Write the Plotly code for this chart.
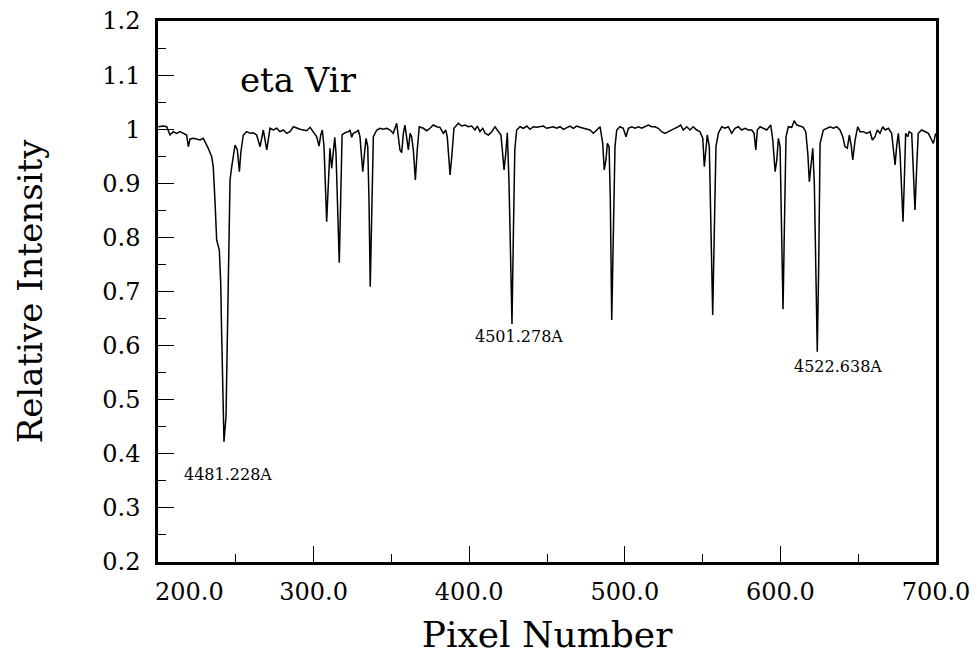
import plotly.graph_objects as go

# ---- data ----
pixel = [
    200.2, 203.4, 205.6, 207.7, 209.8, 212.0, 214.1, 216.3, 218.4, 219.5, 220.6, 222.7, 224.9, 227.0,
    229.1, 230.2, 232.3, 234.5, 235.5, 236.6, 237.7, 239.4, 240.3, 240.9, 241.6, 242.4, 243.7, 244.5,
    245.4, 246.3, 247.4, 249.5, 251.0, 252.3, 253.2, 254.8, 257.0, 259.1, 261.2, 263.4, 265.6, 267.7,
    269.9, 272.0, 274.1, 276.3, 278.4, 280.5, 282.7, 284.8, 287.0, 289.1, 291.3, 293.4, 295.6, 297.7,
    299.8, 302.0, 303.5, 304.6, 305.6, 306.7, 308.4, 309.5, 310.5, 311.6, 312.7, 313.6, 314.4, 315.5,
    316.5, 317.4, 318.3, 320.2, 322.3, 323.4, 324.5, 325.5, 327.7, 328.7, 329.8, 330.9, 331.6, 332.6,
    333.7, 334.8, 335.6, 336.4, 337.3, 338.4, 340.6, 342.7, 344.8, 347.0, 349.1, 351.2, 353.4, 354.4,
    355.5, 356.6, 357.7, 358.7, 359.8, 360.9, 362.0, 363.0, 364.1, 365.4, 366.6, 367.9, 370.5, 372.7,
    374.8, 376.9, 379.1, 381.2, 383.4, 384.9, 385.9, 387.7, 388.8, 390.2, 393.0, 395.2, 397.3, 399.4,
    401.6, 403.7, 405.2, 406.9, 408.7, 410.2, 412.3, 414.5, 416.6, 418.7, 420.4, 421.5, 422.4, 423.5,
    424.5, 425.6, 426.7, 427.5, 428.4, 429.3, 430.5, 432.7, 434.8, 437.0, 439.1, 441.2, 443.4, 445.5,
    447.6, 449.8, 451.9, 454.1, 456.2, 458.4, 460.5, 462.7, 464.8, 466.9, 469.1, 471.2, 473.3, 475.5,
    477.6, 479.8, 481.9, 484.1, 485.8, 486.8, 487.9, 488.8, 489.9, 490.7, 491.6, 492.6, 493.7, 494.8,
    496.9, 499.0, 500.8, 502.3, 504.4, 506.6, 508.7, 510.9, 513.0, 515.1, 517.3, 519.4, 521.5, 523.7,
    525.8, 528.0, 530.1, 532.3, 534.4, 535.9, 537.6, 539.8, 541.9, 544.0, 546.2, 548.3, 550.1, 551.1,
    552.2, 553.0, 554.3, 555.4, 556.5, 557.5, 558.6, 560.1, 562.3, 564.4, 566.5, 568.7, 570.8, 573.0,
    575.1, 577.3, 579.4, 581.6, 583.1, 584.2, 585.2, 586.9, 589.0, 591.2, 593.8, 595.1, 596.6, 597.7,
    598.7, 599.8, 600.6, 601.7, 602.5, 603.6, 605.1, 607.3, 608.9, 610.5, 612.6, 614.7, 616.3, 617.6,
    618.6, 619.7, 620.8, 621.8, 622.9, 623.7, 624.6, 625.5, 627.6, 629.8, 631.9, 634.1, 636.2, 638.3,
    640.1, 641.5, 643.0, 644.3, 645.6, 646.5, 648.0, 649.7, 651.2, 653.3, 655.5, 657.6, 659.1, 660.8,
    662.3, 664.0, 665.8, 667.3, 669.4, 671.5, 672.6, 673.7, 674.7, 675.8, 676.9, 677.9, 678.8, 679.6,
    680.5, 681.8, 682.8, 684.4, 685.4, 686.5, 687.6, 688.6, 690.8, 692.9, 695.1, 697.2, 698.3, 699.8,
]
intensity = [
    1.0046, 1.0059, 1.0046, 0.9893, 0.9954, 0.9924, 0.9954, 0.9924, 0.9893, 0.9677, 0.9819, 0.9832, 0.9813, 0.9800,
    0.9832, 0.9769, 0.9647, 0.9491, 0.9307, 0.8691, 0.7952, 0.7767, 0.7157, 0.6233, 0.5309, 0.4224, 0.4686, 0.6233,
    0.8081, 0.9061, 0.9307, 0.9708, 0.9616, 0.9214, 0.9560, 0.9893, 0.9954, 0.9924, 0.9935, 0.9893, 0.9677, 0.9985,
    0.9616, 1.0017, 0.9985, 1.0017, 0.9954, 0.9985, 0.9924, 0.9954, 1.0046, 1.0017, 0.9998, 0.9985, 0.9972, 1.0035,
    0.9954, 0.9861, 0.9689, 0.9893, 0.9985, 0.9677, 0.8290, 0.8937, 0.9647, 0.9277, 0.9554, 0.9850, 0.9554, 0.8506,
    0.7532, 0.8691, 0.9893, 0.9935, 0.9954, 0.9985, 0.9850, 0.9924, 0.9954, 0.9985, 0.9861, 0.9462, 0.9214, 0.9523,
    0.9832, 0.9677, 0.8691, 0.7088, 0.8382, 0.9861, 0.9985, 1.0017, 0.9998, 1.0017, 0.9985, 0.9924, 1.0109, 0.9893,
    0.9616, 0.9566, 0.9924, 1.0077, 0.9861, 0.9616, 0.9924, 0.9861, 0.9616, 0.9061, 0.9616, 1.0046, 1.0017, 0.9972,
    1.0017, 1.0077, 1.0046, 1.0035, 0.9924, 0.9985, 0.9861, 0.9153, 0.9491, 1.0017, 1.0109, 1.0059, 1.0077, 1.0046,
    1.0059, 0.9985, 1.0059, 0.9954, 1.0017, 0.9924, 0.9893, 0.9954, 1.0046, 0.9954, 0.9893, 0.9554, 0.9246, 0.9554,
    0.9935, 0.9000, 0.7458, 0.6399, 0.8075, 0.9616, 0.9985, 1.0046, 1.0017, 1.0059, 0.9998, 1.0046, 1.0035, 1.0046,
    1.0059, 1.0017, 1.0035, 1.0046, 1.0017, 1.0046, 0.9998, 1.0035, 1.0059, 1.0017, 1.0059, 1.0035, 1.0017, 0.9998,
    0.9985, 0.9924, 0.9985, 1.0046, 0.9739, 0.9246, 0.9431, 0.9739, 0.9677, 0.8691, 0.6473, 0.8075, 0.9677, 0.9985,
    1.0046, 1.0017, 0.9861, 1.0017, 1.0046, 1.0017, 1.0046, 1.0017, 1.0046, 1.0077, 1.0046, 1.0046, 1.0017, 0.9954,
    0.9924, 0.9954, 0.9985, 1.0017, 1.0046, 1.0077, 0.9985, 1.0046, 0.9985, 1.0046, 0.9985, 0.9954, 0.9832, 0.9307,
    0.9616, 0.9893, 0.9677, 0.8382, 0.6566, 0.8075, 0.9677, 0.9924, 1.0046, 1.0017, 1.0046, 0.9924, 1.0017, 1.0046,
    0.9985, 1.0017, 0.9985, 0.9985, 0.9924, 0.9616, 0.9985, 1.0046, 1.0017, 0.9985, 1.0077, 0.9800, 0.9214, 0.9431,
    0.9832, 0.9677, 0.8382, 0.6671, 0.8075, 0.9861, 1.0046, 1.0035, 1.0157, 1.0077, 1.0059, 1.0035, 0.9954, 0.9554,
    0.9030, 0.9307, 0.9647, 0.9000, 0.7458, 0.5887, 0.7458, 0.9739, 0.9985, 1.0017, 1.0046, 1.0017, 1.0046, 0.9985,
    0.9861, 0.9677, 0.9647, 0.9893, 0.9677, 0.9431, 0.9800, 1.0046, 0.9954, 0.9954, 0.9924, 0.9954, 0.9800, 0.9861,
    0.9985, 0.9924, 1.0046, 0.9985, 1.0017, 0.9924, 0.9677, 0.9338, 0.9677, 0.9924, 0.9554, 0.8815, 0.8290, 0.9000,
    0.9924, 0.9861, 0.9954, 0.9924, 0.9307, 0.8506, 0.9307, 0.9924, 0.9985, 0.9954, 0.9924, 0.9800, 0.9739, 0.9924,
]

x_tick_values = [200, 300, 400, 500, 600, 700]
x_tick_labels = ["200.0", "300.0", "400.0", "500.0", "600.0", "700.0"]
y_tick_values = [0.2, 0.3, 0.4, 0.5, 0.6, 0.7, 0.8, 0.9, 1.0, 1.1, 1.2]
y_tick_labels = ["0.2", "0.3", "0.4", "0.5", "0.6", "0.7", "0.8", "0.9", "1", "1.1", "1.2"]

line_names = ["4481.228A", "4501.278A", "4522.638A"]
line_label_x = [245.3, 431.7, 637.0]
line_label_y = [0.361, 0.616, 0.562]

star_name = "eta Vir"

FONT = "DejaVu Serif"

fig = go.Figure()
fig.add_trace(go.Scatter(x=pixel, y=intensity, mode="lines",
                         line=dict(color="black", width=1.5), showlegend=False,
                         hoverinfo="skip"))

annotations = []
for name, lx, ly in zip(line_names, line_label_x, line_label_y):
    annotations.append(dict(x=lx, y=ly, xref="x", yref="y", text=name, showarrow=False,
                            font=dict(family=FONT, size=16, color="black")))
annotations.append(dict(x=290.6, y=1.091, xref="x", yref="y", text=star_name, showarrow=False,
                        font=dict(family=FONT, size=34, color="black")))
# the first x label sits shifted right of its tick in the reference
annotations.append(dict(x=x_tick_values[0], y=0, xref="x", yref="paper", text=x_tick_labels[0],
                        showarrow=False, xanchor="center", yanchor="top", xshift=31, yshift=-14,
                        font=dict(family=FONT, size=24, color="black")))

fig.update_layout(
    width=979, height=655,
    margin=dict(l=158, r=43, t=21, b=93),
    paper_bgcolor="white", plot_bgcolor="white",
    font=dict(family=FONT, color="black"),
    annotations=annotations,
    xaxis=dict(
        range=[200, 700], showgrid=False, zeroline=False, automargin=False,
        showline=True, linecolor="black", linewidth=2.5, mirror=True,
        ticks="inside", ticklen=16, tickwidth=1.2, tickcolor="black",
        tickvals=x_tick_values, ticktext=[""] + x_tick_labels[1:],
        tickfont=dict(family=FONT, size=24, color="black"),
        ticklabelstandoff=6,
        minor=dict(ticks="inside", ticklen=8, tickwidth=1.2, tickcolor="black", dtick=50, tick0=200),
        title=dict(text="Pixel Number", font=dict(family=FONT, size=36, color="black"), standoff=26),
    ),
    yaxis=dict(
        range=[0.2, 1.2], showgrid=False, zeroline=False, automargin=False,
        showline=True, linecolor="black", linewidth=2.5, mirror=True,
        ticks="inside", ticklen=16, tickwidth=1.2, tickcolor="black",
        tickvals=y_tick_values, ticktext=y_tick_labels,
        tickfont=dict(family=FONT, size=24, color="black"),
        ticklabelstandoff=10,
        minor=dict(ticks="inside", ticklen=8, tickwidth=1.2, tickcolor="black", dtick=0.05, tick0=0.2),
        title=dict(text="Relative Intensity", font=dict(family=FONT, size=34, color="black"), standoff=50),
    ),
)

fig.write_html("out.html")
